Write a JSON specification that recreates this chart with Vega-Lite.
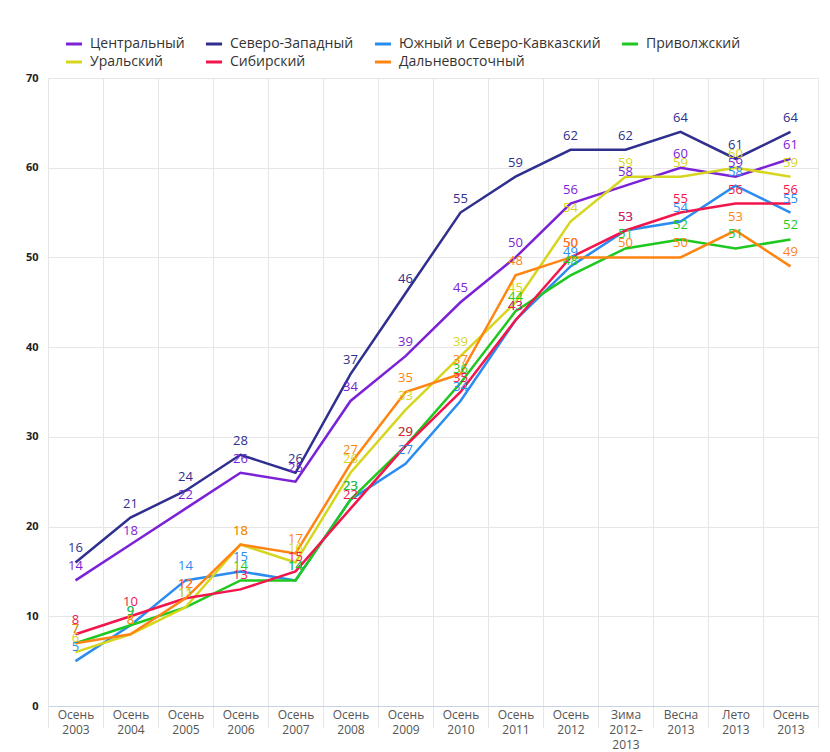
{
  "$schema": "https://vega.github.io/schema/vega-lite/v6.json",
  "width": 770,
  "height": 628,
  "autosize": {"type": "none"},
  "padding": {"left": 48, "top": 78, "right": 12, "bottom": 46},
  "background": "white",
  "config": {
    "font": "Open Sans",
    "view": {"stroke": null},
    "axis": {"gridColor": "#e6e6e6", "gridWidth": 1, "labelColor": "#333333", "labelFont": "Open Sans"}
  },
  "data": {"values": [
    {"p":"Осень 2003","r":"Центральный","v":14},{"p":"Осень 2004","r":"Центральный","v":18},{"p":"Осень 2005","r":"Центральный","v":22},{"p":"Осень 2006","r":"Центральный","v":26},{"p":"Осень 2007","r":"Центральный","v":25},{"p":"Осень 2008","r":"Центральный","v":34},{"p":"Осень 2009","r":"Центральный","v":39},{"p":"Осень 2010","r":"Центральный","v":45},{"p":"Осень 2011","r":"Центральный","v":50},{"p":"Осень 2012","r":"Центральный","v":56},{"p":"Зима 2012–2013","r":"Центральный","v":58},{"p":"Весна 2013","r":"Центральный","v":60},{"p":"Лето 2013","r":"Центральный","v":59},{"p":"Осень 2013","r":"Центральный","v":61},
    {"p":"Осень 2003","r":"Северо-Западный","v":16},{"p":"Осень 2004","r":"Северо-Западный","v":21},{"p":"Осень 2005","r":"Северо-Западный","v":24},{"p":"Осень 2006","r":"Северо-Западный","v":28},{"p":"Осень 2007","r":"Северо-Западный","v":26},{"p":"Осень 2008","r":"Северо-Западный","v":37},{"p":"Осень 2009","r":"Северо-Западный","v":46},{"p":"Осень 2010","r":"Северо-Западный","v":55},{"p":"Осень 2011","r":"Северо-Западный","v":59},{"p":"Осень 2012","r":"Северо-Западный","v":62},{"p":"Зима 2012–2013","r":"Северо-Западный","v":62},{"p":"Весна 2013","r":"Северо-Западный","v":64},{"p":"Лето 2013","r":"Северо-Западный","v":61},{"p":"Осень 2013","r":"Северо-Западный","v":64},
    {"p":"Осень 2003","r":"Южный и Северо-Кавказский","v":5},{"p":"Осень 2004","r":"Южный и Северо-Кавказский","v":9},{"p":"Осень 2005","r":"Южный и Северо-Кавказский","v":14},{"p":"Осень 2006","r":"Южный и Северо-Кавказский","v":15},{"p":"Осень 2007","r":"Южный и Северо-Кавказский","v":14},{"p":"Осень 2008","r":"Южный и Северо-Кавказский","v":23},{"p":"Осень 2009","r":"Южный и Северо-Кавказский","v":27},{"p":"Осень 2010","r":"Южный и Северо-Кавказский","v":34},{"p":"Осень 2011","r":"Южный и Северо-Кавказский","v":43},{"p":"Осень 2012","r":"Южный и Северо-Кавказский","v":49},{"p":"Зима 2012–2013","r":"Южный и Северо-Кавказский","v":53},{"p":"Весна 2013","r":"Южный и Северо-Кавказский","v":54},{"p":"Лето 2013","r":"Южный и Северо-Кавказский","v":58},{"p":"Осень 2013","r":"Южный и Северо-Кавказский","v":55},
    {"p":"Осень 2003","r":"Приволжский","v":7},{"p":"Осень 2004","r":"Приволжский","v":9},{"p":"Осень 2005","r":"Приволжский","v":11},{"p":"Осень 2006","r":"Приволжский","v":14},{"p":"Осень 2007","r":"Приволжский","v":14},{"p":"Осень 2008","r":"Приволжский","v":23},{"p":"Осень 2009","r":"Приволжский","v":29},{"p":"Осень 2010","r":"Приволжский","v":36},{"p":"Осень 2011","r":"Приволжский","v":44},{"p":"Осень 2012","r":"Приволжский","v":48},{"p":"Зима 2012–2013","r":"Приволжский","v":51},{"p":"Весна 2013","r":"Приволжский","v":52},{"p":"Лето 2013","r":"Приволжский","v":51},{"p":"Осень 2013","r":"Приволжский","v":52},
    {"p":"Осень 2003","r":"Уральский","v":6},{"p":"Осень 2004","r":"Уральский","v":8},{"p":"Осень 2005","r":"Уральский","v":11},{"p":"Осень 2006","r":"Уральский","v":18},{"p":"Осень 2007","r":"Уральский","v":16},{"p":"Осень 2008","r":"Уральский","v":26},{"p":"Осень 2009","r":"Уральский","v":33},{"p":"Осень 2010","r":"Уральский","v":39},{"p":"Осень 2011","r":"Уральский","v":45},{"p":"Осень 2012","r":"Уральский","v":54},{"p":"Зима 2012–2013","r":"Уральский","v":59},{"p":"Весна 2013","r":"Уральский","v":59},{"p":"Лето 2013","r":"Уральский","v":60},{"p":"Осень 2013","r":"Уральский","v":59},
    {"p":"Осень 2003","r":"Сибирский","v":8},{"p":"Осень 2004","r":"Сибирский","v":10},{"p":"Осень 2005","r":"Сибирский","v":12},{"p":"Осень 2006","r":"Сибирский","v":13},{"p":"Осень 2007","r":"Сибирский","v":15},{"p":"Осень 2008","r":"Сибирский","v":22},{"p":"Осень 2009","r":"Сибирский","v":29},{"p":"Осень 2010","r":"Сибирский","v":35},{"p":"Осень 2011","r":"Сибирский","v":43},{"p":"Осень 2012","r":"Сибирский","v":50},{"p":"Зима 2012–2013","r":"Сибирский","v":53},{"p":"Весна 2013","r":"Сибирский","v":55},{"p":"Лето 2013","r":"Сибирский","v":56},{"p":"Осень 2013","r":"Сибирский","v":56},
    {"p":"Осень 2003","r":"Дальневосточный","v":7},{"p":"Осень 2004","r":"Дальневосточный","v":8},{"p":"Осень 2005","r":"Дальневосточный","v":12},{"p":"Осень 2006","r":"Дальневосточный","v":18},{"p":"Осень 2007","r":"Дальневосточный","v":17},{"p":"Осень 2008","r":"Дальневосточный","v":27},{"p":"Осень 2009","r":"Дальневосточный","v":35},{"p":"Осень 2010","r":"Дальневосточный","v":37},{"p":"Осень 2011","r":"Дальневосточный","v":48},{"p":"Осень 2012","r":"Дальневосточный","v":50},{"p":"Зима 2012–2013","r":"Дальневосточный","v":50},{"p":"Весна 2013","r":"Дальневосточный","v":50},{"p":"Лето 2013","r":"Дальневосточный","v":53},{"p":"Осень 2013","r":"Дальневосточный","v":49}
  ]},
  "encoding": {
    "x": {"field": "p", "type": "nominal", "sort": null, "title": null,
      "axis": {"labelAngle": 0, "tickBand": "extent", "grid": true, "ticks": true, "tickColor": "#e6e6e6", "tickSize": 22,
        "domainColor": "#c5d3e3", "labelFontSize": 12, "labelColor": "#555555", "labelPadding": -19, "labelLineHeight": 15,
        "labelExpr": "isString(datum.value) ? (datum.value == 'Зима 2012–2013' ? ['Зима', '2012–', '2013'] : split(datum.value, ' ')) : ''"}},
    "y": {"field": "v", "type": "quantitative", "title": null,
      "scale": {"domain": [0, 70], "nice": false},
      "axis": {"values": [0,10,20,30,40,50,60,70], "domain": false, "ticks": false, "labelPadding": 10, "labelFontSize": 11, "labelColor": "#222222", "labelFontWeight": "bold"}},
    "color": {"field": "r", "type": "nominal",
      "scale": {"domain": ["Центральный","Северо-Западный","Южный и Северо-Кавказский","Приволжский","Уральский","Сибирский","Дальневосточный"],
                "range": ["#7b22d6","#2e2f8f","#2a8cf0","#1fc81f","#d6d61e","#f2164c","#ff8412"]}}
  },
  "layer": [
    {"mark": {"type": "line", "strokeWidth": 2.5},
     "encoding": {"color": {"field": "r", "type": "nominal",
       "legend": {"title": null, "orient": "none", "legendX": 16, "legendY": -44, "direction": "horizontal", "columns": 4, "gridAlign": "none",
         "symbolType": "stroke", "symbolStrokeWidth": 3, "symbolSize": 260, "labelFontSize": 14, "labelLimit": 400, "labelColor": "#333333", "columnPadding": 14, "rowPadding": 1, "labelOffset": 6}}}},
    {"mark": {"type": "text", "dy": -14, "fontSize": 13, "font": "Open Sans"},
     "encoding": {"text": {"field": "v", "type": "quantitative"}, "color": {"field": "r", "type": "nominal", "legend": null}}}
  ]
}
